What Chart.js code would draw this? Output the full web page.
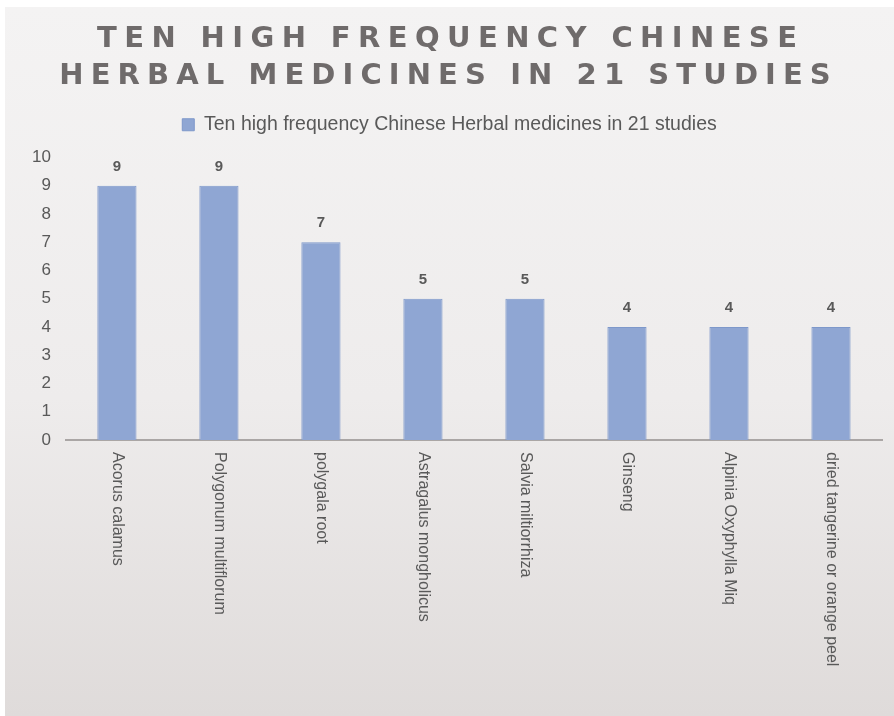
<!DOCTYPE html>
<html>
<head>
<meta charset="utf-8">
<script src="https://cdn.jsdelivr.net/npm/chart.js@4/dist/chart.umd.min.js"></script>
<style>
  html, body { margin: 0; padding: 0; background: #ffffff; }
  #wrap { width: 894px; height: 716px; position: relative; }
</style>
</head>
<body>
<div id="wrap"><canvas id="c" width="894" height="716"></canvas></div>
<script>
const titleLines = ["TEN HIGH FREQUENCY CHINESE", "HERBAL MEDICINES IN 21 STUDIES"];
const seriesName = "Ten high frequency Chinese Herbal medicines in 21 studies";
const categories = ["Acorus calamus", "Polygonum multiflorum", "polygala root", "Astragalus mongholicus", "Salvia miltiorrhiza", "Ginseng", "Alpinia Oxyphylla Miq", "dried tangerine or orange peel"];
const counts = [9, 9, 7, 5, 5, 4, 4, 4];
const yTicks = [0, 1, 2, 3, 4, 5, 6, 7, 8, 9, 10];

const FONT = '"Liberation Sans", Arial, Helvetica, sans-serif';
const TITLE_FONT = '"DejaVu Sans", Verdana, sans-serif';
const TEXT = '#595959';

const bgPlugin = {
  id: 'bg',
  beforeDraw(chart) {
    const ctx = chart.ctx;
    ctx.save();
    ctx.fillStyle = '#ffffff';
    ctx.fillRect(0, 0, chart.width, chart.height);
    const g = ctx.createLinearGradient(0, 7, 0, chart.height);
    g.addColorStop(0, '#f4f3f3');
    g.addColorStop(0.55, '#eeecec');
    g.addColorStop(1, '#dfdbda');
    ctx.fillStyle = g;
    ctx.fillRect(5, 7, chart.width - 5, chart.height - 7);
    ctx.restore();
  }
};

// empty layout box that keeps a gap between the legend and the plot area
const spacerPlugin = {
  id: 'spacer',
  beforeInit(chart) {
    Chart.layouts.addBox(chart, {
      id: 'legendGap',
      position: 'top',
      weight: -10,
      fullSize: true,
      options: {},
      width: 0, height: 0, left: 0, top: 0, right: 0, bottom: 0,
      isHorizontal() { return true; },
      update(maxWidth) { this.width = maxWidth; this.height = 13; },
      draw() {}
    });
  }
};

function spacedText(ctx, text, cx, y, spacing) {
  const chars = [...text];
  const widths = chars.map(ch => ctx.measureText(ch).width);
  const total = widths.reduce((a, b) => a + b, 0) + spacing * (chars.length - 1);
  let x = cx - total / 2;
  chars.forEach((ch, i) => {
    ctx.fillText(ch, x, y);
    x += widths[i] + spacing;
  });
}

const titlePlugin = {
  id: 'spacedTitle',
  afterDraw(chart) {
    const ctx = chart.ctx;
    ctx.save();
    ctx.fillStyle = '#6f6b6b';
    ctx.font = 'bold 29px ' + TITLE_FONT;
    ctx.textAlign = 'left';
    ctx.textBaseline = 'alphabetic';
    spacedText(ctx, titleLines[0], 447, 47, 7.4);
    spacedText(ctx, titleLines[1], 445, 84, 7.1);
    ctx.restore();
  }
};

const labelPlugin = {
  id: 'labels',
  afterDatasetsDraw(chart) {
    const ctx = chart.ctx;
    const meta = chart.getDatasetMeta(0);
    ctx.save();
    ctx.fillStyle = TEXT;
    ctx.font = 'bold 15px ' + FONT;
    ctx.textAlign = 'center';
    ctx.textBaseline = 'alphabetic';
    meta.data.forEach((bar, i) => {
      ctx.fillText(String(counts[i]), bar.x, bar.y - 15);
    });
    // rotated category labels (reading top to bottom)
    const xs = chart.scales.x;
    ctx.font = '16px ' + FONT;
    ctx.textAlign = 'left';
    ctx.textBaseline = 'middle';
    categories.forEach((c, i) => {
      const x = xs.getPixelForTick(i);
      ctx.save();
      ctx.translate(x, chart.chartArea.bottom + 12);
      ctx.rotate(Math.PI / 2);
      ctx.fillText(c, 0, 0);
      ctx.restore();
    });
    ctx.restore();
  }
};

new Chart(document.getElementById('c'), {
  type: 'bar',
  data: {
    labels: categories,
    datasets: [{
      label: seriesName,
      data: counts,
      backgroundColor: '#8fa6d3',
      borderColor: '#7e98ca',
      borderWidth: 1,
      categoryPercentage: 0.8,
      barPercentage: 0.48
    }]
  },
  options: {
    responsive: false,
    animation: false,
    devicePixelRatio: 1,
    layout: { padding: { top: 92, left: 17, right: 12, bottom: 0 } },
    plugins: {
      title: { display: false },
      tooltip: { enabled: false },
      legend: {
        display: true,
        position: 'top',
        labels: {
          boxWidth: 12,
          boxHeight: 12,
          padding: 23,
          color: TEXT,
          font: { family: FONT, size: 19.5 }
        }
      }
    },
    scales: {
      x: {
        grid: { display: false, drawTicks: false },
        border: { display: true, color: '#aaa6a5', width: 2 },
        ticks: { display: false },
        afterFit(scale) { scale.height = 276; }
      },
      y: {
        min: 0,
        max: 10,
        afterBuildTicks(scale) { scale.ticks = yTicks.map(v => ({ value: v })); },
        grid: { display: false, drawTicks: false },
        border: { display: false },
        ticks: {
          color: TEXT,
          padding: 15,
          font: { family: FONT, size: 17 }
        }
      }
    }
  },
  plugins: [bgPlugin, spacerPlugin, titlePlugin, labelPlugin]
});
</script>
</body>
</html>
